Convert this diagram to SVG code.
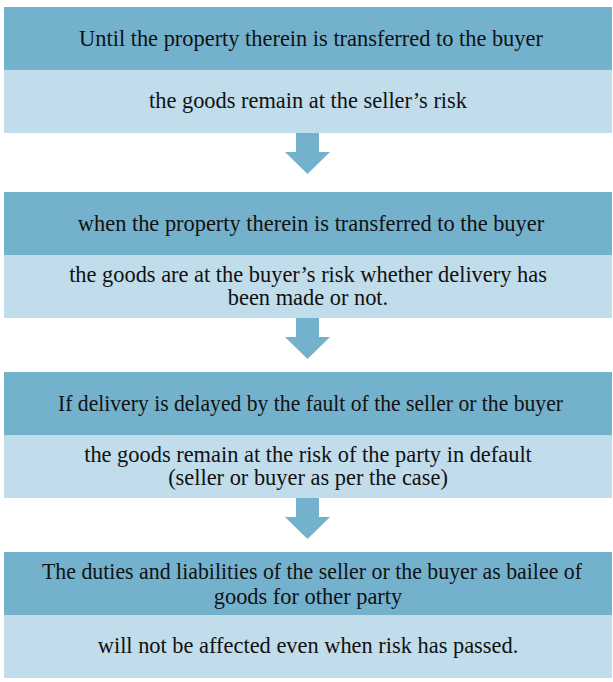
<svg xmlns="http://www.w3.org/2000/svg" width="613" height="682" viewBox="0 0 613 682">
  <style>
    .hd { fill: #74b1cd; }
    .bd { fill: #c1dcea; }
    .arrow { fill: #74b1cd; }
    text { font-family: "Liberation Serif", "DejaVu Serif", serif; font-size: 22.4px; fill: #111; text-anchor: middle; }
  </style>
  <defs>
    <path id="down" d="M-11.5,0 H11.5 V19 H22.5 L0,41 L-22.5,19 H-11.5 Z"/>
  </defs>

  <g id="connectors">
    <use href="#down" class="arrow" x="307.5" y="133"/>
    <use href="#down" class="arrow" x="307.5" y="318"/>
    <use href="#down" class="arrow" x="307.5" y="498"/>
  </g>

  <g id="step1">
    <rect class="hd" x="4" y="7" width="608" height="63"/>
    <rect class="bd" x="4" y="70" width="608" height="63"/>
    <text x="311" y="46">Until the property therein is transferred to the buyer</text>
    <text x="308" y="108">the goods remain at the seller’s risk</text>
  </g>

  <g id="step2">
    <rect class="hd" x="4" y="192" width="608" height="63"/>
    <rect class="bd" x="4" y="255" width="608" height="63"/>
    <text x="311" y="231">when the property therein is transferred to the buyer</text>
    <text x="308" y="282">the goods are at the buyer’s risk whether delivery has</text>
    <text x="308" y="305">been made or not.</text>
  </g>

  <g id="step3">
    <rect class="hd" x="4" y="372" width="608" height="63"/>
    <rect class="bd" x="4" y="435" width="608" height="63"/>
    <text x="310.5" y="411" textLength="505" lengthAdjust="spacingAndGlyphs">If delivery is delayed by the fault of the seller or the buyer</text>
    <text x="308" y="462">the goods remain at the risk of the party in default</text>
    <text x="308" y="485">(seller or buyer as per the case)</text>
  </g>

  <g id="step4">
    <rect class="hd" x="4" y="552" width="608" height="63"/>
    <rect class="bd" x="4" y="615" width="608" height="63"/>
    <text x="312" y="579" textLength="540" lengthAdjust="spacingAndGlyphs">The duties and liabilities of the seller or the buyer as bailee of</text>
    <text x="308" y="604">goods for other party</text>
    <text x="308" y="653">will not be affected even when risk has passed.</text>
  </g>
</svg>
